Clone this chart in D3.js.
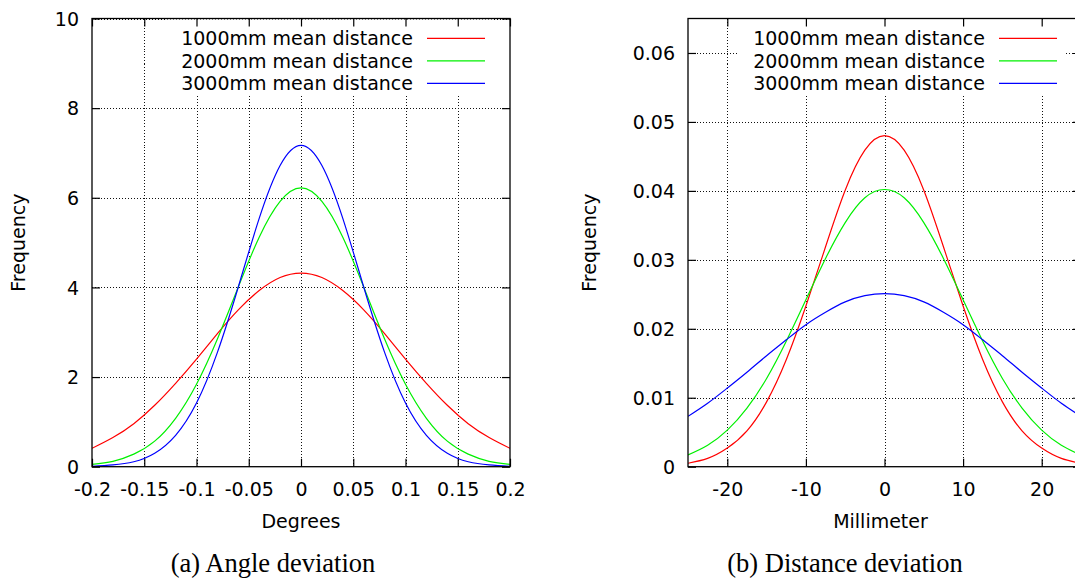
<!DOCTYPE html>
<html>
<head>
<meta charset="utf-8">
<script src="https://cdn.jsdelivr.net/npm/d3@7"></script>
<style>
  html, body { margin: 0; padding: 0; background: #fff; overflow: hidden; }
  svg { display: block; }
  text { font-family: "DejaVu Sans", sans-serif; fill: #000; }
  .caption { font-family: "Liberation Serif", "Times New Roman", serif; }
</style>
</head>
<body>
<div id="chart"></div>
<script>
// values
var seriesNames = ["1000mm mean distance", "2000mm mean distance", "3000mm mean distance"];
var seriesColors = ["#ff0000", "#00f000", "#0000ff"];

var angleX = [-0.2, -0.18, -0.16, -0.14, -0.12, -0.1, -0.08, -0.06, -0.04, -0.02, 0,
              0.02, 0.04, 0.06, 0.08, 0.1, 0.12, 0.14, 0.16, 0.18, 0.2];
var angle1000 = [0.41, 0.65, 0.96, 1.37, 1.86, 2.40, 2.97, 3.50, 3.93, 4.22, 4.32,
                 4.22, 3.93, 3.50, 2.97, 2.40, 1.86, 1.37, 0.96, 0.65, 0.41];
var angle2000 = [0.05, 0.12, 0.28, 0.57, 1.08, 1.84, 2.85, 4.01, 5.12, 5.92, 6.22,
                 5.92, 5.12, 4.01, 2.85, 1.84, 1.08, 0.57, 0.28, 0.12, 0.05];
var angle3000 = [0.01, 0.04, 0.11, 0.30, 0.70, 1.42, 2.55, 4.01, 5.54, 6.72, 7.17,
                 6.72, 5.54, 4.01, 2.55, 1.42, 0.70, 0.30, 0.11, 0.04, 0.01];

var distX = [-25, -22.5, -20, -17.5, -15, -12.5, -10, -7.5, -5, -2.5, 0,
             2.5, 5, 7.5, 10, 12.5, 15, 17.5, 20, 22.5, 25];
var dist1000 = [0.0005, 0.0012, 0.0027, 0.0052, 0.0094, 0.0155, 0.0233, 0.0319, 0.0401, 0.0459, 0.0480,
                0.0459, 0.0401, 0.0319, 0.0233, 0.0155, 0.0094, 0.0052, 0.0027, 0.0012, 0.0005];
var dist2000 = [0.0017, 0.0031, 0.0053, 0.0085, 0.0128, 0.0182, 0.0242, 0.0302, 0.0354, 0.0390, 0.0402,
                0.0390, 0.0354, 0.0302, 0.0242, 0.0182, 0.0128, 0.0085, 0.0053, 0.0031, 0.0017];
var dist3000 = [0.0073, 0.0092, 0.0114, 0.0137, 0.0161, 0.0184, 0.0206, 0.0224, 0.0239, 0.0248, 0.0251,
                0.0248, 0.0239, 0.0224, 0.0206, 0.0184, 0.0161, 0.0137, 0.0114, 0.0092, 0.0073];

var angleTicksX = [-0.2, -0.15, -0.1, -0.05, 0, 0.05, 0.1, 0.15, 0.2];
var angleTicksY = [0, 2, 4, 6, 8, 10];
var distTicksX = [-20, -10, 0, 10, 20];
var distTicksY = [0, 0.01, 0.02, 0.03, 0.04, 0.05, 0.06];

var width = 1075, height = 579;

var svg = d3.select("#chart").append("svg")
    .attr("width", width)
    .attr("height", height);

var panels = [
  {left: 92, right: 510, xDomain: [-0.2, 0.2], yDomain: [0, 10],
   xs: angleX, ys: [angle1000, angle2000, angle3000],
   xTicks: angleTicksX, yTicks: angleTicksY,
   xLabel: "Degrees", caption: "(a) Angle deviation", captionX: 273,
   legendRight: 413, yLabelX: 25},
  {left: 688, right: 1081, xDomain: [-25, 25], yDomain: [0, 0.065],
   xs: distX, ys: [dist1000, dist2000, dist3000],
   xTicks: distTicksX, yTicks: distTicksY,
   xLabel: "Millimeter", caption: "(b) Distance deviation", captionX: 845,
   legendRight: 985, yLabelX: 596}
];

var plotTop = 18.5, plotBottom = 466.7, tickLen = 8;

panels.forEach(function(p) {
  var x = d3.scaleLinear().domain(p.xDomain).range([p.left, p.right]);
  var y = d3.scaleLinear().domain(p.yDomain).range([plotBottom, plotTop]);
  var g = svg.append("g");

  // grid (snapped to pixel centres so the dots stay crisp)
  var grid = g.append("g")
    .attr("stroke", "#111")
    .attr("stroke-width", 1)
    .attr("stroke-dasharray", "1,2")
    .attr("shape-rendering", "crispEdges");
  grid.selectAll("line.vx")
    .data(p.xTicks.filter(function(d){ return d > p.xDomain[0] && d < p.xDomain[1]; }))
    .enter().append("line")
    .attr("x1", function(d){ return Math.round(x(d)) + 0.5; })
    .attr("x2", function(d){ return Math.round(x(d)) + 0.5; })
    .attr("y1", plotTop).attr("y2", plotBottom);
  grid.selectAll("line.hy")
    .data(p.yTicks.filter(function(d){ return d > p.yDomain[0]; }))
    .enter().append("line")
    .attr("x1", p.left).attr("x2", p.right)
    .attr("y1", function(d){ return Math.round(y(d)) + 0.5; })
    .attr("y2", function(d){ return Math.round(y(d)) + 0.5; });

  // white key box over the grid
  g.append("rect")
    .attr("x", p.legendRight - 248)
    .attr("y", plotTop + 1)
    .attr("width", 329)
    .attr("height", 95 - plotTop - 1)
    .attr("fill", "#fff");

  // curves
  var line = d3.line()
    .x(function(d){ return x(d[0]); })
    .y(function(d){ return y(d[1]); })
    .curve(d3.curveNatural);
  var clipId = "clip" + p.left;
  g.append("clipPath").attr("id", clipId)
    .append("rect")
    .attr("x", p.left).attr("y", plotTop)
    .attr("width", p.right - p.left).attr("height", plotBottom - plotTop);
  g.append("g").attr("clip-path", "url(#" + clipId + ")")
    .selectAll("path")
    .data(p.ys)
    .enter().append("path")
    .attr("fill", "none")
    .attr("stroke", function(d, i){ return seriesColors[i]; })
    .attr("stroke-width", 1.2)
    .attr("d", function(d){ return line(p.xs.map(function(v, i){ return [v, d[i]]; })); });

  // key
  var key = g.append("g");
  seriesNames.forEach(function(name, i) {
    var ky = 38.3 + i * 22.5;
    key.append("text")
      .attr("x", p.legendRight)
      .attr("y", ky + 6.7)
      .attr("text-anchor", "end")
      .attr("font-size", "19px")
      .text(name);
    key.append("line")
      .attr("x1", p.legendRight + 14)
      .attr("x2", p.legendRight + 72)
      .attr("y1", ky).attr("y2", ky)
      .attr("stroke", seriesColors[i])
      .attr("stroke-width", 1.2);
  });

  var fmt = function(d){ return String(+d.toFixed(3)); };

  // axes with inward ticks on all four sides
  var xAxis = g.append("g")
    .attr("transform", "translate(0," + plotBottom + ")")
    .call(d3.axisBottom(x).tickValues(p.xTicks).tickSize(-tickLen).tickPadding(17).tickFormat(fmt));
  var xTop = g.append("g")
    .attr("transform", "translate(0," + plotTop + ")")
    .call(d3.axisTop(x).tickValues(p.xTicks).tickSize(-tickLen).tickFormat(""));
  var yAxis = g.append("g")
    .attr("transform", "translate(" + p.left + ",0)")
    .call(d3.axisLeft(y).tickValues(p.yTicks).tickSize(-tickLen).tickPadding(13).tickFormat(fmt));
  var yRight = g.append("g")
    .attr("transform", "translate(" + p.right + ",0)")
    .call(d3.axisRight(y).tickValues(p.yTicks).tickSize(-tickLen).tickFormat(""));

  [xAxis, xTop, yAxis, yRight].forEach(function(a) {
    a.select(".domain").remove();
    a.selectAll(".tick line").attr("stroke", "#000").attr("stroke-width", 1.2);
    a.selectAll("text")
      .attr("font-family", "DejaVu Sans")
      .attr("font-size", "19px")
      .attr("fill", "#000");
  });
  xAxis.selectAll("text").attr("dy", null).attr("y", 29.5);
  yAxis.selectAll("text").attr("dy", "0.36em");

  // frame
  g.append("rect")
    .attr("x", p.left).attr("y", plotTop)
    .attr("width", p.right - p.left).attr("height", plotBottom - plotTop)
    .attr("fill", "none")
    .attr("stroke", "#000")
    .attr("stroke-width", 1.3);

  // labels
  g.append("text")
    .attr("x", (p.left + p.right) / 2 + (p.left > 500 ? -4 : 0))
    .attr("y", 528)
    .attr("text-anchor", "middle")
    .attr("font-size", "19px")
    .text(p.xLabel);
  g.append("text")
    .attr("transform", "translate(" + p.yLabelX + "," + ((plotTop + plotBottom) / 2) + ") rotate(-90)")
    .attr("text-anchor", "middle")
    .attr("font-size", "19px")
    .text("Frequency");
  g.append("text")
    .attr("class", "caption")
    .attr("x", p.captionX)
    .attr("y", 571.5)
    .attr("text-anchor", "middle")
    .attr("font-size", "26.5px")
    .text(p.caption);
});
</script>
</body>
</html>
